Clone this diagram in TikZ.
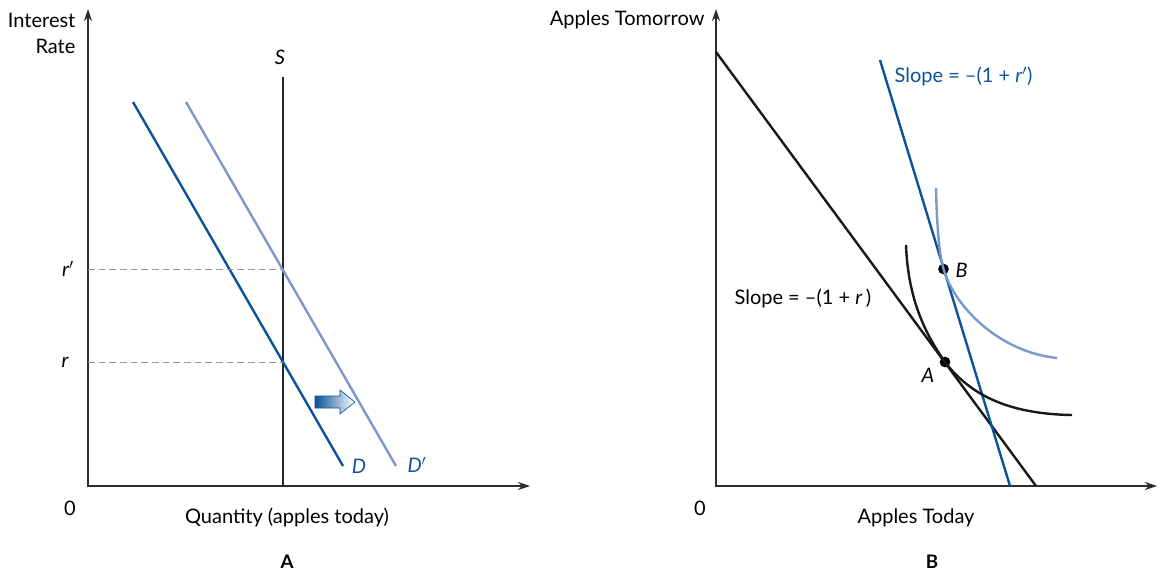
\documentclass[tikz,border=0pt]{standalone}
\usepackage{fontspec}
\setmainfont{Lato}
\usetikzlibrary{arrows.meta}
\definecolor{dblue}{RGB}{12,82,152}
\definecolor{lblue}{RGB}{122,152,204}
\definecolor{axgray}{RGB}{45,45,45}
\definecolor{dashgray}{RGB}{150,150,150}

\begin{document}
\begin{tikzpicture}[x=0.75pt,y=-0.75pt,
  axis/.style={draw=axgray,line width=1pt,{Stealth[length=9pt,width=6pt]}-{Stealth[length=9pt,width=6pt]}},
  curve/.style={line width=1.8pt},
  guide/.style={draw=dashgray,dash pattern=on 5pt off 3pt,line width=0.7pt},
  lab/.style={font=\fontsize{15}{19.5}\selectfont,inner sep=1pt},
  panelcap/.style={font=\fontsize{14}{16}\selectfont\bfseries,inner sep=0pt},
  dot/.style={circle,fill=black,inner sep=0pt,minimum size=8pt}]
\useasboundingbox (0,0) rectangle (1160,572);

% panel A
\coordinate (o1) at (88,486);
\coordinate (y1) at (88,9);
\coordinate (x1) at (530,486);
\draw[axis] (y1) -- (o1) -- (x1);
\node[lab,align=right,anchor=east] (ylab1) at (77,33) {Interest\\Rate};
\node[lab] (zero1) at (70,508) {0};
\node[lab] (xlab1) at (287,517) {Quantity (apples today)};
\node[panelcap] (capA) at (287,562) {A};

\coordinate (s0) at (283,486);
\coordinate (s1) at (283,77);
\draw[curve,black!85] (s0) -- (s1);
\node[lab] (slab) at (280,57) {\itshape S};

\coordinate (d0) at (133,102);
\coordinate (d1) at (343,466);
\coordinate (e0) at (186,102);
\coordinate (e1) at (396,466);
\draw[curve,dblue] (d0) -- (d1);
\draw[curve,lblue] (e0) -- (e1);
\node[lab,text=dblue] (dlab) at (359,466) {\itshape D};
\node[lab,text=dblue] (elab) at (417,465) {\itshape D$'$};

\coordinate (rp) at (88,269);
\coordinate (rr) at (88,362);
\draw[guide] (rp) -- (283,269);
\draw[guide] (rr) -- (283,362);
\node[lab] (rplab) at (68,269) {\itshape r$'$};
\node[lab] (rlab) at (65,362) {\itshape r};

\draw[draw=dblue,line width=0.5pt,left color=dblue,right color=white]
  (315,396) -- (340,396) -- (340,390) -- (355,402) -- (340,414) -- (340,408) -- (315,408) -- cycle;

% panel B
\coordinate (o2) at (716,486);
\coordinate (y2) at (716,9);
\coordinate (x2) at (1157,486);
\draw[axis] (y2) -- (o2) -- (x2);
\node[lab,anchor=east] (ylab2) at (706,20) {Apples Tomorrow};
\node[lab] (zero2) at (700,508) {0};
\node[lab] (xlab2) at (916,518) {Apples Today};
\node[panelcap] (capB) at (932,562) {B};

\coordinate (b0) at (716,52);
\coordinate (b1) at (1036,486);
\coordinate (c0) at (880,60);
\coordinate (c1) at (1010,486);
\draw[curve,black!90] (b0) -- (b1);
\draw[curve,dblue] (c0) -- (c1);

\node[dot] (ptA) at (945,362) {};
\node[dot] (ptB) at (943.5,269) {};
\draw[curve,black!90] (906,245) .. controls (908,300) and (926,335) .. (ptA.center)
  .. controls (971,396) and (1010,414) .. (1072,415);
\draw[curve,lblue] (936,188) .. controls (937,230) and (939.5,256) .. (ptB.center)
  .. controls (955,308) and (1000,352) .. (1057,358);
\node[lab,anchor=west] (blab) at (954,270) {\itshape B};
\node[lab] (alab) at (928,375) {\itshape A};
\node[lab,anchor=west] (sloper) at (733,298) {Slope = –(1 + \textit{r}\,)};
\node[lab,anchor=west,text=dblue] (sloperp) at (893,76) {Slope = –(1 + \textit{r}$'$)};
\end{tikzpicture}
\end{document}
